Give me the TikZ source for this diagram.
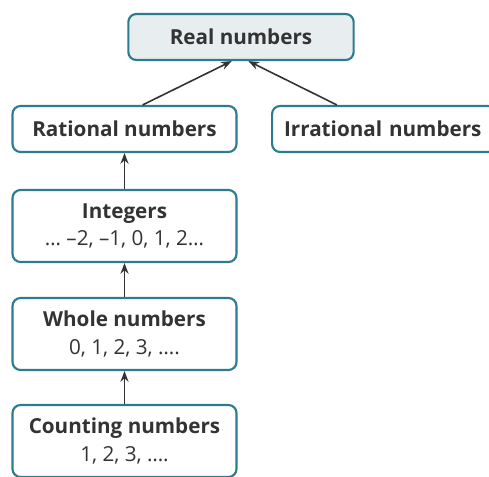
\documentclass[tikz,border=0pt]{standalone}
\usepackage{fontspec}
\setmainfont{Open Sans}
\usetikzlibrary{arrows.meta}
\definecolor{boxteal}{RGB}{44,123,143}
\definecolor{realfill}{RGB}{232,237,240}
\definecolor{txtgray}{RGB}{51,51,51}
\tikzset{
  numbox/.style={draw=boxteal, line width=1.6pt, rounded corners=6pt, fill=white,
    minimum width=168pt, minimum height=34.5pt, inner sep=0pt, align=center,
    text=txtgray, font=\fontsize{15.5}{20.5}\selectfont},
  up/.style={-{Stealth[length=8pt,width=6pt]}, line width=1.2pt, color=txtgray}
}
\begin{document}
\begin{tikzpicture}[x=0.75pt,y=0.75pt,yscale=-1,xscale=1]
\useasboundingbox (0,0) rectangle (489,477);

% Real numbers
\node [numbox, fill=realfill, minimum width=169pt] (real) at (241,37) {\textbf{Real numbers}};

% Rational and irrational (the second runs off the right edge)
\node [numbox] (rat) at (124.5,129) {\textbf{Rational numbers}};
\node [numbox, anchor=west, text width=150pt, align=left, inner xsep=8.2pt] (irr) at (271,129) {\textbf{Irrational numbers}};

% Integers, whole, counting
\node [numbox, minimum height=54pt] (int) at (124.5,226) {\textbf{Integers}\\… –2, –1, 0, 1, 2…};
\node [numbox, minimum height=54pt] (whole) at (124.5,334) {\textbf{Whole numbers}\\0, 1, 2, 3, ….};
\node [numbox, minimum height=54pt] (count) at (124.5,441) {\textbf{Counting numbers}\\1, 2, 3, ….};

% Arrows
\draw [up] (rat.53) -- (real.249);
\draw [up] (irr.153) -- (real.287);
\draw [up] (int.north) -- (rat.south);
\draw [up] (whole.north) -- (int.south);
\draw [up] (count.north) -- (whole.south);

\end{tikzpicture}
\end{document}
